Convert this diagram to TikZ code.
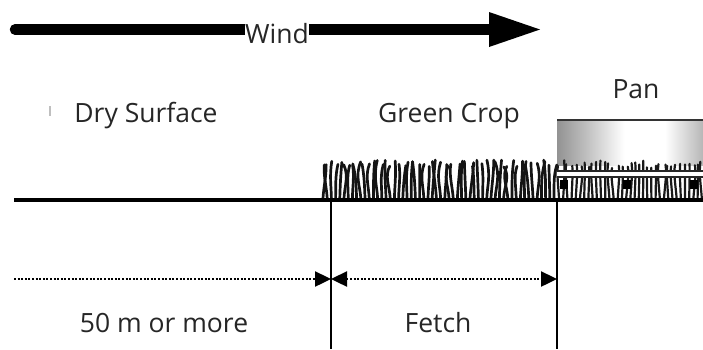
\documentclass[tikz,border=0pt]{standalone}
\usepackage{fontspec}
\setmainfont{Open Sans}
\usetikzlibrary{arrows.meta}

% cylinder-like shading for the evaporation pan
\pgfdeclarehorizontalshading{panshade}{100bp}{
  color(0bp)=(black!75);
  color(15bp)=(black!60);
  color(35bp)=(black!25);
  color(48bp)=(white);
  color(62bp)=(white);
  color(78bp)=(black!35);
  color(90bp)=(black!62);
  color(100bp)=(black!78)}

\tikzset{
  lbl/.style={font=\fontsize{26.5}{30}\selectfont, text=black!85, inner sep=0pt, anchor=base},
  ground/.style={line width=4.5pt, black},
  grass/.style={line width=2.7pt, black!92, line cap=round},
  stubble/.style={line width=2.2pt, black!90, line cap=round},
  marker/.style={line width=1.3pt, black},
  dimline/.style={line width=2.4pt, dash pattern=on 2pt off 1.6pt,
    >={Triangle[length=16pt,width=15pt]}}
}

\begin{document}
\begin{tikzpicture}[x=1pt,y=-1pt]
\useasboundingbox (0,0) rectangle (703,349);

% ---- wind arrow ----
\coordinate (windstart) at (15,29.5);
\coordinate (windbase) at (489,29.5);
\coordinate (windtip) at (540,29.5);
\draw[line width=10.5pt, line cap=round] (windstart) -- (windbase);
\fill (489,12) -- (windtip) -- (489,47) -- cycle;
\node[lbl, fill=white, inner xsep=0.5pt, inner ysep=1pt] (wind) at (277,43) {Wind};

% ---- region labels ----
\node[lbl] (dry) at (146,122) {Dry Surface};
\node[lbl] (crop) at (449,122) {Green Crop};
\node[lbl] (panlbl) at (636,98) {Pan};
\draw[black!25, line width=1.5pt] (50,106) -- (50,116);

% ---- evaporation pan ----
\shade[shading=panshade] (557,119) rectangle (703,165);
\draw[black!80, line width=2pt] (557,120) -- (703,120);

% ---- green crop ----
\pgfmathsetseed{11}
\foreach \i in {0,...,55} {
  \pgfmathsetmacro\gx{323+\i*4.2}
  \pgfmathsetmacro\grtop{160+rnd*7}
  \pgfmathsetmacro\lean{(rnd-0.5)*9}
  \pgfmathsetmacro\bend{(rnd-0.5)*5}
  \draw[grass] (\gx,198) .. controls (\gx+0.2*\lean,186) and (\gx+\lean+\bend,176) .. (\gx+0.6*\lean-\bend,\grtop);
}

% ---- grass and stand under the pan ----
\foreach \i in {0,...,34} {
  \pgfmathsetmacro\gx{559+\i*4.2}
  \pgfmathsetmacro\grtop{160+rnd*8}
  \pgfmathsetmacro\lean{(rnd-0.5)*7}
  \draw[stubble] (\gx,198) .. controls (\gx+0.3*\lean,186) and (\gx+\lean,174) .. (\gx+0.5*\lean,\grtop);
}
\fill[white] (557,172) rectangle (703,176);
\draw[black!85, line width=2.2pt] (557,171) -- (703,171);
\draw[black!85, line width=1.8pt] (557,177) -- (703,177);
\foreach \bx in {564,627,694}
  \fill (\bx-4,180) rectangle (\bx+4,189);

% ---- ground ----
\coordinate (groundL) at (14,200);
\coordinate (groundR) at (703,200);
\draw[ground] (groundL) -- (groundR);

% ---- boundary markers ----
\coordinate (b1top) at (331,202);
\coordinate (b1bot) at (331,349);
\coordinate (b2top) at (557,202);
\coordinate (b2bot) at (557,349);
\draw[marker] (b1top) -- (b1bot);
\draw[marker] (b2top) -- (b2bot);

% ---- distances ----
\coordinate (dimL) at (14,279);
\coordinate (dimM) at (331,279);
\coordinate (dimR) at (557,279);
\draw[dimline, ->] (dimL) -- (dimM);
\draw[dimline, <->] (dimM) -- (dimR);
\node[lbl] (upwind) at (164,332) {50 m or more};
\node[lbl] (fetch) at (438,332) {Fetch};
\end{tikzpicture}
\end{document}
